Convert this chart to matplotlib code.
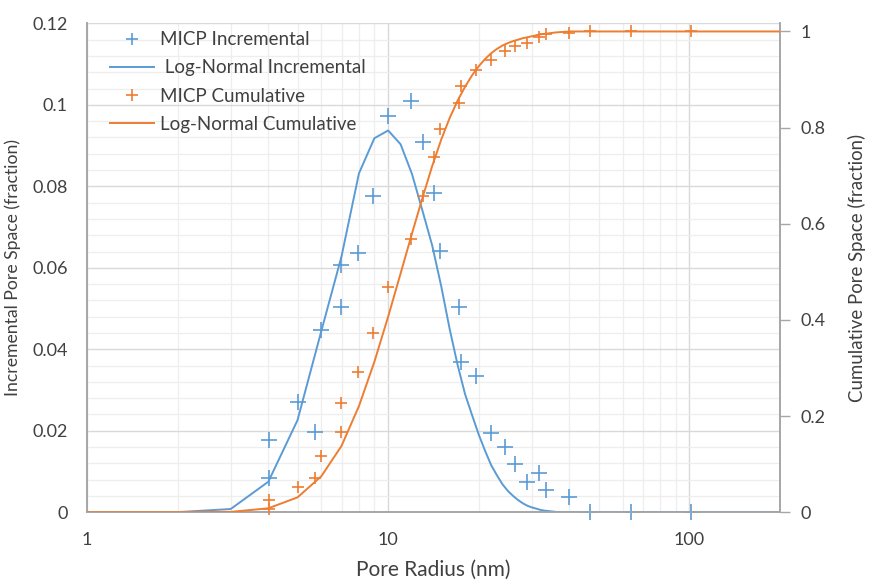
import matplotlib.pyplot as plt
from matplotlib.ticker import FixedLocator, MultipleLocator, FuncFormatter
from matplotlib.lines import Line2D

# MICP measurements (pore radius in nm)
micp_radius = [4.02, 4.02, 5.02, 5.73, 5.98, 6.95, 6.95, 7.97, 8.89, 10.0,
               11.9, 13.1, 14.2, 14.85, 17.14, 17.48, 19.57, 21.95, 24.43,
               26.42, 28.88, 31.73, 33.5, 39.7, 46.8, 64.2, 101.0]
micp_incremental = [0.0085, 0.0177, 0.0271, 0.0198, 0.0447, 0.0505, 0.0607,
                    0.0636, 0.0777, 0.0973, 0.1010, 0.0908, 0.0784, 0.0641,
                    0.0505, 0.0370, 0.0335, 0.0194, 0.0160, 0.0118, 0.0075,
                    0.0097, 0.0055, 0.0038, 0.0, 0.0, 0.0]
micp_cumulative = [0.006, 0.026, 0.053, 0.071, 0.118, 0.168, 0.228, 0.292,
                   0.372, 0.469, 0.568, 0.658, 0.739, 0.798, 0.852, 0.886,
                   0.920, 0.940, 0.960, 0.970, 0.976, 0.988, 0.994, 0.997,
                   1.0, 1.0, 1.0]

# Log-normal model evaluated at integer radii
model_radius = [1, 2, 3, 4, 5, 6, 7, 8, 9, 10, 11, 12, 13, 14, 15, 16, 17, 18,
                19, 20, 21, 22, 23, 24, 25, 26, 27, 28, 29, 30, 31, 32, 33, 34,
                35, 36, 38, 40, 50, 200]
model_incremental = [0.0, 0.00003, 0.0008, 0.0075, 0.0226, 0.0445, 0.0628,
                     0.0832, 0.0918, 0.0937, 0.0903, 0.0830, 0.0740, 0.0655,
                     0.0555, 0.0450, 0.0362, 0.0290, 0.0238, 0.0190, 0.0150,
                     0.0115, 0.0090, 0.0068, 0.0052, 0.0040, 0.0030, 0.0022,
                     0.0016, 0.0012, 0.0009, 0.0006, 0.0004, 0.0003, 0.0002,
                     0.0001, 0.0, 0.0, 0.0, 0.0]
model_cumulative = [0.0, 0.0, 0.0008, 0.0083, 0.031, 0.075, 0.138, 0.221,
                    0.313, 0.407, 0.497, 0.580, 0.654, 0.720, 0.775, 0.820,
                    0.856, 0.885, 0.909, 0.928, 0.943, 0.955, 0.964, 0.971,
                    0.976, 0.980, 0.983, 0.986, 0.988, 0.990, 0.992, 0.994,
                    0.995, 0.996, 0.997, 0.998, 0.999, 1.0, 1.0, 1.0]

BLUE = "#5B9BD5"
ORANGE = "#ED7D31"
GRID_MAJOR = "#d9d9d9"
GRID_MINOR = "#eeeeee"
AXIS_GREY = "#a6a6a6"
TEXT = "#404040"

plt.rcParams["font.family"] = ["Lato", "DejaVu Sans"]

fig = plt.figure(figsize=(8.69, 5.83), dpi=100)
ax = fig.add_axes([0.1001, 0.1213, 0.7975, 0.8387])
ax2 = ax.twinx()

ax.set_xscale("log")
ax.set_xlim(1, 200)
ax.set_ylim(0, 0.12)
ax2.set_ylim(0, 0.12 / 0.118)

# gridlines
ax.yaxis.set_major_locator(MultipleLocator(0.02))
ax.yaxis.set_minor_locator(MultipleLocator(0.004))
ax.xaxis.set_major_locator(FixedLocator([1, 10, 100]))
ax.xaxis.set_minor_locator(FixedLocator([m * d for d in (1, 10, 100) for m in range(2, 10) if m * d < 200]))
ax.grid(which="minor", color=GRID_MINOR, lw=0.9, zorder=0)
ax.grid(which="major", color=GRID_MAJOR, lw=1.0, zorder=0)
ax.set_axisbelow(True)

fmt = FuncFormatter(lambda v, p: f"{v:g}")
ax.xaxis.set_major_formatter(fmt)
ax.yaxis.set_major_formatter(fmt)
ax.tick_params(which="both", length=0, labelsize=13, labelcolor=TEXT)
ax.tick_params(axis="x", pad=14)
ax.tick_params(axis="y", pad=14)

ax2.yaxis.set_major_locator(FixedLocator([0, 0.2, 0.4, 0.6, 0.8, 1.0]))
ax2.yaxis.set_major_formatter(fmt)
ax2.tick_params(axis="y", length=7, width=1, color=AXIS_GREY, labelsize=13,
                labelcolor=TEXT, pad=8)

for a in (ax, ax2):
    a.spines["top"].set_visible(False)
    for s in ("left", "right", "bottom"):
        a.spines[s].set_color(AXIS_GREY)
        a.spines[s].set_linewidth(1.2)

# incremental series
ax.plot(micp_radius, micp_incremental, ls="none", marker="+", ms=11.5, mew=1.2,
        color=BLUE, zorder=3, clip_on=False)
ax.plot(model_radius, model_incremental, color=BLUE, lw=1.4, zorder=3)

# cumulative series
ax2.plot(micp_radius, micp_cumulative, ls="none", marker="+", ms=9, mew=1.2,
         color=ORANGE, zorder=3, clip_on=False)
ax2.plot(model_radius, model_cumulative, color=ORANGE, lw=1.4, zorder=3)

ax.set_xlabel("Pore Radius (nm)", fontsize=15, color=TEXT, labelpad=9)
ax.set_ylabel("Incremental Pore Space (fraction)", fontsize=12.7, color=TEXT, labelpad=8)
ax2.set_ylabel("Cumulative Pore Space (fraction)", fontsize=13.4, color=TEXT, labelpad=16)

handles = [
    Line2D([], [], ls="none", marker="+", ms=9, mew=1.2, color=BLUE),
    Line2D([], [], color=BLUE, lw=1.4),
    Line2D([], [], ls="none", marker="+", ms=9, mew=1.2, color=ORANGE),
    Line2D([], [], color=ORANGE, lw=1.4),
]
labels = ["MICP Incremental", " Log-Normal Incremental", "MICP Cumulative",
          "Log-Normal Cumulative"]
ax2.legend(handles, labels, loc="upper left", bbox_to_anchor=(0.009, 1.018),
           frameon=False, fontsize=13.5, labelcolor=TEXT, handlelength=2.35,
           handletextpad=0.32, labelspacing=0.59)

fig.savefig("out.png", dpi=100, facecolor="white")
